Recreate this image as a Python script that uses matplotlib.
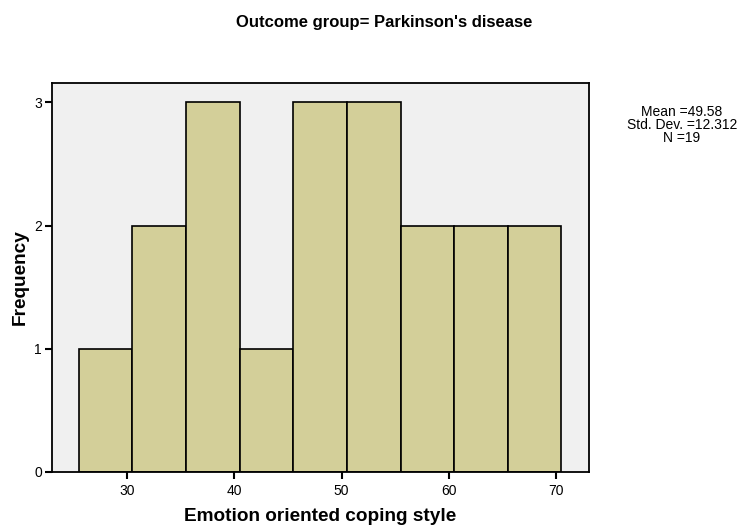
import matplotlib
matplotlib.use("Agg")
import matplotlib.pyplot as plt
import numpy as np

bin_edges = [25.5, 30.5, 35.5, 40.5, 45.5, 50.5, 55.5, 60.5, 65.5, 70.5]
counts = [1, 2, 3, 1, 3, 3, 2, 2, 2]
x_ticks = [30, 40, 50, 60, 70]
y_ticks = [0, 1, 2, 3]
title = "Outcome group= Parkinson's disease"
xlabel = "Emotion oriented coping style"
ylabel = "Frequency"
stats_lines = ["Mean =49.58", "Std. Dev. =12.312", "N =19"]

plt.rcParams['font.family'] = ['Liberation Sans', 'DejaVu Sans']

fig = plt.figure(figsize=(7.41, 5.29), dpi=100)
ax = fig.add_axes([0.0698, 0.1078, 0.7247, 0.7359])
ax.set_facecolor('#F0F0F0')

edges = np.array(bin_edges)
ax.bar(edges[:-1], counts, width=np.diff(edges), align='edge',
       color='#D3CF99', edgecolor='black', linewidth=1.2, zorder=2)

ax.set_xlim(22.98, 73.05)
ax.set_ylim(0, 3.16)
ax.set_xticks(x_ticks)
ax.set_yticks(y_ticks)
ax.tick_params(axis='both', direction='out', length=5, width=1.5, labelsize=10, colors='black')
ax.tick_params(axis='y', pad=2)
for s in ax.spines.values():
    s.set_linewidth(1.3)
    s.set_color('black')

ax.set_xlabel(xlabel, fontsize=13.7, fontweight='bold', labelpad=7)
ax.set_ylabel(ylabel, fontsize=13.7, fontweight='bold', labelpad=4)

fig.text(384/741, 1 - 22/529, title, ha='center', va='center', fontsize=12, fontweight='bold')
fig.text(682/741, 1 - 125/529, "\n".join(stats_lines), ha='center', va='center',
         fontsize=10, linespacing=0.92)

fig.savefig("out.png", dpi=100)
